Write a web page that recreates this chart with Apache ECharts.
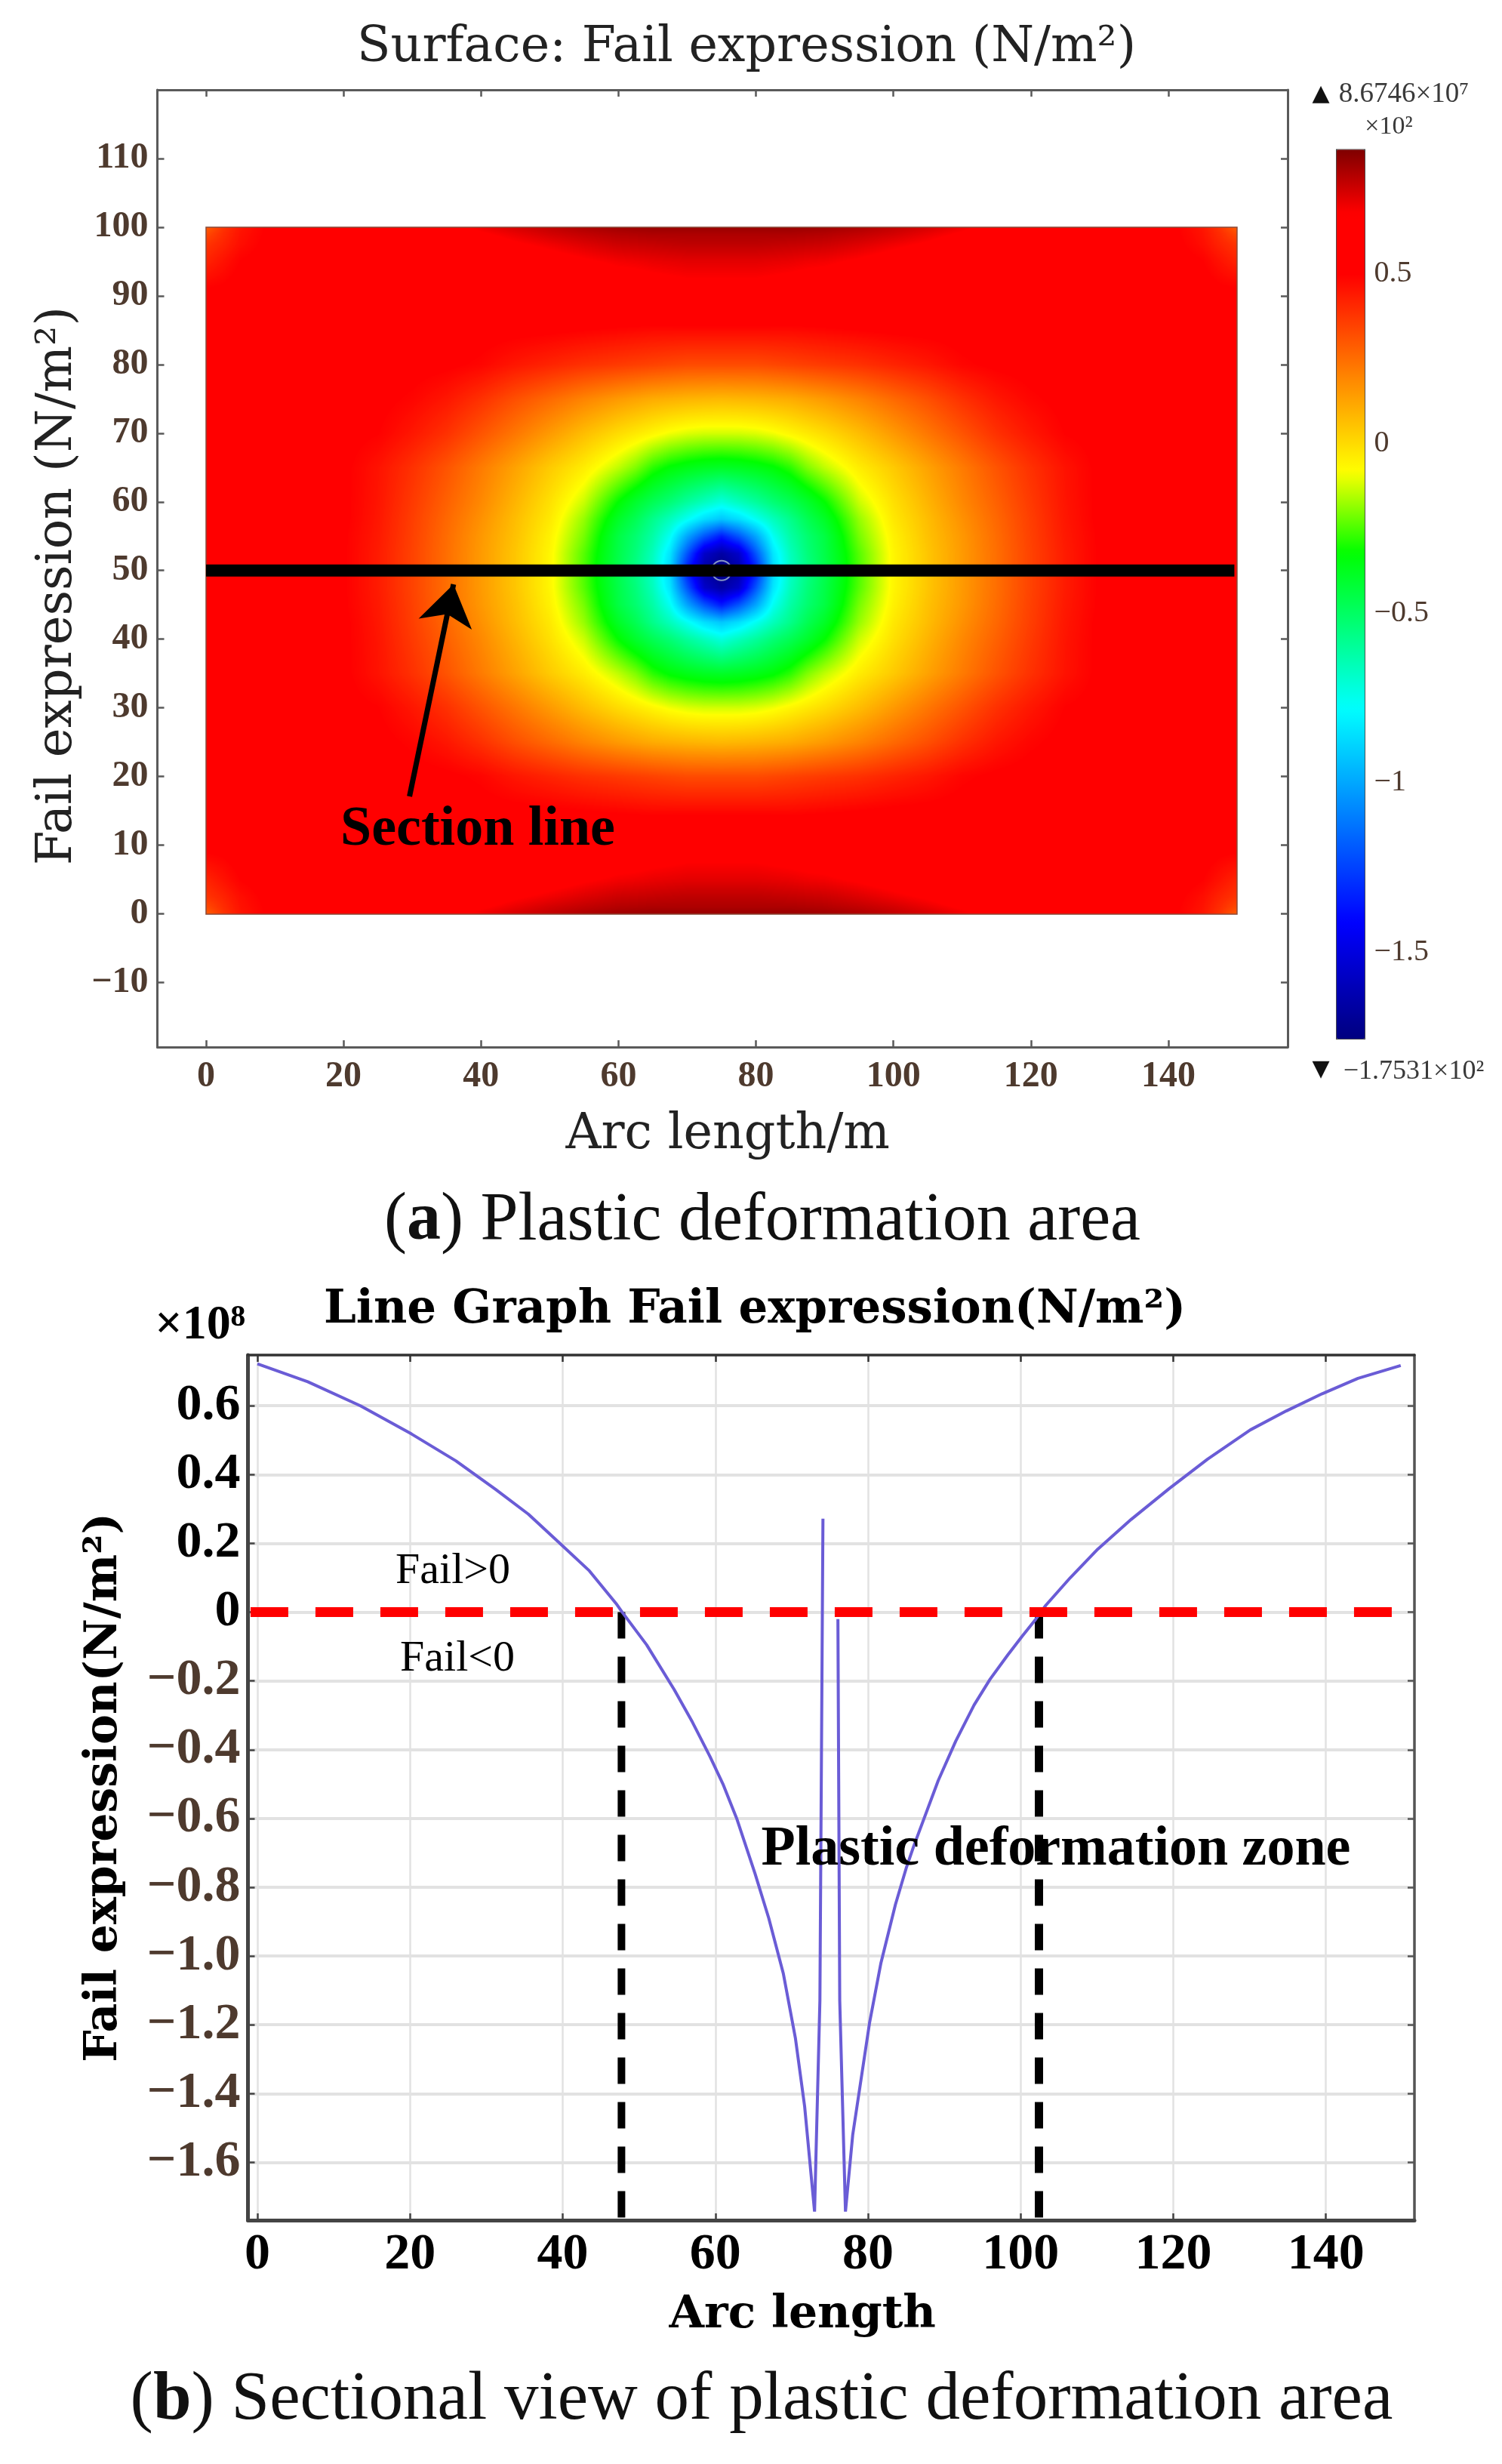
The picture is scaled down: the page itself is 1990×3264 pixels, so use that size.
<!DOCTYPE html>
<html>
<head>
<meta charset="utf-8">
<title>Plastic deformation area</title>
<script src="https://cdn.jsdelivr.net/npm/echarts@6/dist/echarts.min.js"></script>
<style>
html, body { margin: 0; padding: 0; background: #fff; }
#chart { width: 1990px; height: 3264px; }
</style>
</head>
<body>
<div id="chart"></div>
<script>
// surface plot, values read off the colours of the picture (x10^8 N/m2)
// lower left quarter only, the field is mirrored about x=75 and y=50
const surfaceX = [0, 2.5, 5, 10, 15, 20, 25, 30, 35, 40, 45, 50, 55, 60, 62.5, 65, 67.5, 70, 72.5, 75];
const surfaceY = [0, 1, 2.5, 5, 10, 15, 20, 25, 30, 35, 40, 42.5, 45, 47.5, 50];
const surfaceRows = [
    [.28, .38, .45, .52, .54, .55, .57, .60, .65, .70, .74, .77, .80, .82, .825, .83, .83, .83, .83, .83],
    [.33, .40, .46, .52, .54, .55, .56, .58, .62, .67, .71, .745, .77, .79, .795, .80, .80, .80, .80, .80],
    [.38, .42, .47, .525, .54, .545, .55, .56, .59, .63, .67, .70, .73, .755, .76, .765, .77, .775, .775, .775],
    [.42, .46, .50, .53, .54, .54, .545, .55, .56, .58, .61, .64, .67, .695, .70, .71, .715, .72, .72, .72],
    [.52, .52, .53, .535, .54, .54, .54, .54, .54, .54, .545, .56, .58, .60, .61, .62, .63, .64, .64, .64],
    [.53, .53, .535, .54, .54, .54, .535, .53, .525, .52, .515, .51, .50, .49, .485, .48, .48, .48, .48, .48],
    [.54, .54, .54, .535, .53, .53, .525, .52, .51, .49, .45, .42, .39, .37, .36, .35, .34, .33, .33, .33],
    [.54, .54, .54, .53, .525, .52, .515, .49, .45, .39, .32, .26, .20, .15, .13, .11, .10, .09, .085, .08],
    [.54, .54, .54, .53, .52, .515, .50, .45, .39, .31, .23, .15, .07, 0, -.03, -.06, -.09, -.11, -.12, -.12],
    [.54, .54, .54, .53, .52, .51, .46, .39, .31, .22, .13, .04, -.04, -.14, -.20, -.28, -.33, -.36, -.38, -.39],
    [.54, .54, .54, .53, .52, .51, .455, .37, .28, .19, .09, -.01, -.13, -.32, -.40, -.47, -.53, -.60, -.66, -.72],
    [.54, .54, .54, .53, .52, .51, .45, .36, .265, .17, .07, -.03, -.18, -.39, -.47, -.57, -.66, -.76, -.86, -.92],
    [.54, .54, .54, .53, .52, .505, .445, .355, .255, .155, .06, -.05, -.21, -.44, -.52, -.62, -.76, -1.00, -1.20, -1.35],
    [.54, .54, .54, .53, .52, .505, .44, .35, .25, .15, .05, -.06, -.24, -.45, -.54, -.66, -.84, -1.20, -1.55, -1.65],
    [.54, .54, .54, .53, .52, .505, .44, .35, .25, .15, .05, -.06, -.25, -.46, -.56, -.68, -.88, -1.35, -1.65, -1.75]
];

// colour scale of the legend bar
const scaleMin = -1.7531;
const scaleMax = 0.86746;
const scaleValues = [-1.7531, -1.41, -0.78, -0.32, -0.08, 0.5, 0.68, 0.86746];
const scaleColors = ['#00007f', '#0000ff', '#00ffff', '#00ff00', '#ffff00', '#ff0000', '#ff0000', '#7f0000'];
const scaleTicks = [-1.5, -1, -0.5, 0, 0.5];

// section line and arrow in the surface plot
const sectionX = [0, 149.6];
const sectionY = [50, 50];
const holeCenter = [75, 50];
const arrowFrom = [29.6, 17.1];
const arrowTo = [36, 48];

const surfaceTicksX = [0, 20, 40, 60, 80, 100, 120, 140];
const surfaceTicksY = [-10, 0, 10, 20, 30, 40, 50, 60, 70, 80, 90, 100, 110];

// line graph along the section line, null breaks the curve at the spike
const failX = [0, 6.6, 13.5, 20.2, 26, 31.2, 35.5, 39.4, 43.5, 47, 47.8, 51, 54.6, 57, 59.3, 61, 62.8, 65.2, 67, 68.9, 70.5, 71.7, 73, 73.7, 74.1, 75,
    76.06, 76.3, 77.05, 78, 80.2, 81.7, 83.6, 85, 86, 89.2, 91.5, 93.9, 96, 98.3, 100.2, 102, 103.3, 106.5, 110.1, 114.5, 119.5, 124.5, 130.1, 134.8, 139.5, 144.2, 149.8];
const failY = [.722, .67, .60, .518, .44, .357, .285, .205, .12, .025, 0, -.095, -.225, -.32, -.42, -.50, -.60, -.76, -.89, -1.05, -1.24, -1.437, -1.743, -1.13, .272, null,
    -.02, -1.13, -1.743, -1.52, -1.195, -1.02, -.85, -.745, -.68, -.49, -.375, -.27, -.195, -.125, -.07, -.02, .02, .10, .183, .27, .36, .445, .53, .585, .635, .68, .717];
const zeroLineX = [-0.9, 148.9];
const zeroLineY = [0, 0];
const leftDashX = [47.7, 47.7];
const rightDashX = [102.4, 102.4];
const dashY = [0, -1.768];

const failTicksX = [0, 20, 40, 60, 80, 100, 120, 140];
const failTicksY = [-1.6, -1.4, -1.2, -1, -0.8, -0.6, -0.4, -0.2, 0, 0.2, 0.4, 0.6];

const SERIF = '"Liberation Serif", serif';
const SLAB = '"DejaVu Serif", serif';
const BROWN = '#4e3a2e';

function hexToRgb(hex) {
    return [parseInt(hex.slice(1, 3), 16), parseInt(hex.slice(3, 5), 16), parseInt(hex.slice(5, 7), 16)];
}

// colour of a value on the legend bar
function scaleRgb(v) {
    let i = 0;
    while (i < scaleValues.length - 2 && v > scaleValues[i + 1]) i++;
    let t = (v - scaleValues[i]) / (scaleValues[i + 1] - scaleValues[i]);
    t = Math.max(0, Math.min(1, t));
    const a = hexToRgb(scaleColors[i]);
    const b = hexToRgb(scaleColors[i + 1]);
    return [0, 1, 2].map(k => Math.round(a[k] + (b[k] - a[k]) * t));
}

function mirrored(list, about) {
    const back = list.slice(0, -1).reverse().map(v => about * 2 - v);
    return list.concat(back);
}

const fullX = mirrored(surfaceX, 75);
const fullY = mirrored(surfaceY, 50);
const fullRows = surfaceRows.concat(surfaceRows.slice(0, -1).reverse())
    .map(row => row.concat(row.slice(0, -1).reverse()));

const surfaceCells = [];
fullRows.forEach((row, j) => {
    row.forEach((v, i) => {
        surfaceCells.push([fullX[i], fullY[j], v]);
    });
});

// legend bar stops, evenly spaced as visualMap wants them
const barColors = [];
for (let i = 0; i <= 128; i++) {
    const c = scaleRgb(scaleMin + (scaleMax - scaleMin) * i / 128);
    barColors.push('rgb(' + c.join(',') + ')');
}

// which two nodes each pixel sits between
function pixelSpans(nodes, from, to, count) {
    const spans = [];
    let k = 0;
    for (let p = 0; p < count; p++) {
        const d = from + (to - from) * (p + 0.5) / count;
        while (k < nodes.length - 2 && d > nodes[k + 1]) k++;
        spans.push([k, (d - nodes[k]) / (nodes[k + 1] - nodes[k])]);
    }
    return spans;
}

// shades the read values into a canvas, the way the solver smooths its surface
function paintSurface(w, h) {
    const canvas = document.createElement('canvas');
    canvas.width = w;
    canvas.height = h;
    const ctx = canvas.getContext('2d');
    const img = ctx.createImageData(w, h);
    const spanX = pixelSpans(fullX, 0, 150, w);
    const spanY = pixelSpans(fullY, 0, 100, h).reverse(); // canvas rows run top down
    const lut = [];
    for (let i = 0; i <= 1024; i++) lut.push(scaleRgb(scaleMin + (scaleMax - scaleMin) * i / 1024));
    let o = 0;
    for (let y = 0; y < h; y++) {
        const j = spanY[y][0], ty = spanY[y][1];
        const r0 = fullRows[j], r1 = fullRows[j + 1];
        for (let x = 0; x < w; x++) {
            const i = spanX[x][0], tx = spanX[x][1];
            const a = r0[i] + (r0[i + 1] - r0[i]) * tx;
            const b = r1[i] + (r1[i + 1] - r1[i]) * tx;
            const v = a + (b - a) * ty;
            const c = lut[Math.round((v - scaleMin) / (scaleMax - scaleMin) * 1024)] || lut[0];
            img.data[o++] = c[0];
            img.data[o++] = c[1];
            img.data[o++] = c[2];
            img.data[o++] = 255;
        }
    }
    ctx.putImageData(img, 0, 0);
    return canvas;
}

function renderSurface(params, api) {
    if (params.dataIndex !== 0) return;
    const tl = api.coord([0, 100]);
    const br = api.coord([150, 0]);
    const w = Math.round(br[0] - tl[0]);
    const h = Math.round(br[1] - tl[1]);
    return {
        type: 'group',
        children: [
            { type: 'image', style: { image: paintSurface(w, h), x: tl[0], y: tl[1], width: w, height: h } },
            { type: 'rect', shape: { x: tl[0], y: tl[1], width: w, height: h }, style: { fill: 'none', stroke: '#8a4a3a', lineWidth: 1.5 } }
        ]
    };
}

function minusLabel(v) {
    return String(v).replace('-', '\u2212');
}

function failLabel(v) {
    return v === 0 ? '0' : v.toFixed(1).replace('-', '\u2212');
}

function frameAxis(gridIndex, position, min, max, ticks, color, width) {
    return {
        type: 'value',
        gridIndex: gridIndex,
        position: position,
        min: min,
        max: max,
        axisLine: { show: true, onZero: false, lineStyle: { color: color, width: width } },
        axisTick: { show: true, inside: true, length: 9, customValues: ticks, lineStyle: { color: color, width: 2.5 } },
        axisLabel: { show: false },
        splitLine: { show: false }
    };
}

function labelledAxis(base, labelOpt, ticks, nameOpt) {
    base.axisLabel = Object.assign({ show: true, customValues: ticks, fontFamily: SERIF, fontWeight: 'bold' }, labelOpt);
    return Object.assign(base, nameOpt);
}

function gridLines(axis, width) {
    axis.splitLine = { show: true, lineStyle: { color: '#e2e2e2', width: width } };
    return axis;
}

function label(text, x, y, font, size, opt) {
    return {
        type: 'text',
        x: x,
        y: y,
        z: 100,
        style: Object.assign({
            text: text,
            fontFamily: font,
            fontSize: size,
            fill: '#000',
            align: 'center',
            verticalAlign: 'middle'
        }, opt || {})
    };
}

function caption(text, x, y, size) {
    return label(text, x, y, SERIF, size, {
        fill: '#111',
        rich: { b: { fontFamily: SERIF, fontSize: size, fontWeight: 'bold', fill: '#111' } }
    });
}

const xAxes = [
    labelledAxis(frameAxis(0, 'bottom', -7.08, 157.35, surfaceTicksX, '#5a5a5a', 3),
        { color: BROWN, fontSize: 48, margin: 16 }, surfaceTicksX,
        { name: 'Arc length/m', nameLocation: 'middle', nameGap: 85,
          nameTextStyle: { fontFamily: SLAB, fontSize: 65, color: '#222', verticalAlign: 'top', padding: [0, 0, 0, 14] } }),
    frameAxis(0, 'top', -7.08, 157.35, surfaceTicksX, '#5a5a5a', 3),
    gridLines(labelledAxis(frameAxis(1, 'bottom', -1.24, 151.6, failTicksX, '#444', 5),
        { color: '#000', fontSize: 68, margin: 12 }, failTicksX,
        { name: 'Arc length', nameLocation: 'middle', nameGap: 96,
          nameTextStyle: { fontFamily: SLAB, fontWeight: 'bold', fontSize: 60, color: '#000', verticalAlign: 'top', padding: [0, 76, 0, 0] } }), 2.5),
    frameAxis(1, 'top', -1.24, 151.6, failTicksX, '#333', 3.5),
    { type: 'value', gridIndex: 2, min: 0, max: 1, show: false }
];

const yAxes = [
    labelledAxis(frameAxis(0, 'left', -19.4, 120, surfaceTicksY, '#5a5a5a', 3),
        { color: BROWN, fontSize: 48, margin: 12, formatter: minusLabel }, surfaceTicksY,
        { name: 'Fail expression (N/m\u00b2)', nameLocation: 'middle', nameGap: 94, nameRotate: 90,
          nameTextStyle: { fontFamily: SLAB, fontSize: 65.5, color: '#222', verticalAlign: 'bottom', padding: [0, 46, 0, 0] } }),
    frameAxis(0, 'right', -19.4, 120, surfaceTicksY, '#5a5a5a', 3),
    gridLines(labelledAxis(frameAxis(1, 'left', -1.768, 0.7476, failTicksY, '#444', 5),
        { color: v => (Number(v) < 0 ? BROWN : '#000'), fontSize: 68, margin: 10, formatter: failLabel }, failTicksY,
        { name: 'Fail expression(N/m\u00b2)', nameLocation: 'middle', nameGap: 160, nameRotate: 90,
          nameTextStyle: { fontFamily: SLAB, fontWeight: 'bold', fontSize: 60, color: '#000', verticalAlign: 'bottom' } }), 4),
    frameAxis(1, 'right', -1.768, 0.7476, failTicksY, '#555', 3.5),
    {
        type: 'value',
        gridIndex: 2,
        position: 'right',
        min: scaleMin,
        max: scaleMax,
        axisLine: { show: false },
        axisTick: { show: false },
        splitLine: { show: false },
        axisLabel: { customValues: scaleTicks, color: BROWN, fontFamily: SERIF, fontSize: 40, margin: 13, formatter: minusLabel }
    }
];

const chart = echarts.init(document.getElementById('chart'), null, { renderer: 'canvas' });

chart.setOption({
    backgroundColor: '#fff',
    animation: false,
    title: [
        { text: 'Surface: Fail expression (N/m\u00b2)', left: 989, top: 32, textAlign: 'center', padding: 0,
          textStyle: { fontFamily: SLAB, fontSize: 65, fontWeight: 'normal', color: '#222' } },
        { text: 'Line Graph Fail expression(N/m\u00b2)', left: 1000, top: 1706, textAlign: 'center', padding: 0,
          textStyle: { fontFamily: SLAB, fontSize: 61, fontWeight: 'bold', color: '#000' } }
    ],
    grid: [
        { left: 208.5, top: 119, width: 1497.5, height: 1268 },
        { left: 328.5, top: 1795, width: 1545.5, height: 1146 },
        { left: 1770, top: 197.5, width: 37.5, height: 1178 }
    ],
    xAxis: xAxes,
    yAxis: yAxes,
    visualMap: {
        type: 'continuous',
        seriesIndex: 0,
        dimension: 2,
        min: scaleMin,
        max: scaleMax,
        left: 1770,
        top: 197.5,
        padding: 0,
        itemWidth: 37.5,
        itemHeight: 1178,
        showLabel: false,
        calculable: false,
        borderColor: '#444',
        borderWidth: 1.5,
        inRange: { color: barColors }
    },
    graphic: [
        label('Section line', 633, 1100, SERIF, 74, { fontWeight: 'bold' }),
        caption('({b|a}) Plastic deformation area', 1010, 1618, 90),
        caption('({b|b}) Sectional view of plastic deformation area', 1009, 3180, 91),
        label('\u25b2', 1750, 125, '"DejaVu Sans"', 30, { fill: '#111' }),
        label('8.6746\u00d710\u2077', 1860, 125, SERIF, 37, { fill: '#3a3a3a' }),
        label('\u00d710\u00b2', 1840, 168, SERIF, 34, { fill: '#3a3a3a' }),
        label('\u25bc', 1750, 1417, '"DejaVu Sans"', 30, { fill: '#111' }),
        label('\u22121.7531\u00d710\u00b2', 1873, 1420, SERIF, 36, { fill: '#3a3a3a' }),
        label('\u00d710\u2078', 265, 1756, SERIF, 64, { fontWeight: 'bold' }),
        label('Fail>0', 600, 2082, SERIF, 58),
        label('Fail<0', 606, 2198, SERIF, 58),
        label('Plastic deformation zone', 1399, 2451, SERIF, 74, { fontWeight: 'bold' })
    ],
    series: [
        {
            type: 'custom',
            xAxisIndex: 0,
            yAxisIndex: 0,
            coordinateSystem: 'cartesian2d',
            renderItem: renderSurface,
            encode: { x: 0, y: 1 },
            silent: true,
            z: 1,
            data: surfaceCells
        },
        {
            type: 'scatter',
            xAxisIndex: 0,
            yAxisIndex: 0,
            symbol: 'circle',
            symbolSize: 26,
            silent: true,
            z: 2,
            itemStyle: { color: 'rgba(0,0,0,0)', borderColor: '#a8bcd0', borderWidth: 2 },
            data: [holeCenter]
        },
        {
            type: 'line',
            xAxisIndex: 0,
            yAxisIndex: 0,
            showSymbol: false,
            silent: true,
            z: 3,
            lineStyle: { color: '#000', width: 16, cap: 'butt' },
            data: sectionX.map((x, i) => [x, sectionY[i]]),
            markLine: {
                silent: true,
                animation: false,
                label: { show: false },
                lineStyle: { color: '#000', width: 7, type: 'solid' },
                data: [[
                    { coord: arrowFrom, symbol: 'none' },
                    { coord: arrowTo, symbol: 'arrow', symbolSize: 54, itemStyle: { color: '#000' } }
                ]]
            }
        },
        {
            type: 'line',
            xAxisIndex: 2,
            yAxisIndex: 2,
            showSymbol: false,
            silent: true,
            connectNulls: false,
            z: 3,
            lineStyle: { color: '#6a5cd6', width: 4 },
            data: failX.map((x, i) => [x, failY[i]])
        },
        {
            type: 'line',
            xAxisIndex: 2,
            yAxisIndex: 2,
            showSymbol: false,
            silent: true,
            z: 2,
            lineStyle: { color: '#000', width: 10, type: [35, 24], cap: 'butt' },
            data: leftDashX.map((x, i) => [x, dashY[i]])
        },
        {
            type: 'line',
            xAxisIndex: 2,
            yAxisIndex: 2,
            showSymbol: false,
            silent: true,
            z: 2,
            lineStyle: { color: '#000', width: 11, type: [35, 24], cap: 'butt' },
            data: rightDashX.map((x, i) => [x, dashY[i]])
        },
        {
            type: 'line',
            xAxisIndex: 2,
            yAxisIndex: 2,
            showSymbol: false,
            silent: true,
            z: 4,
            lineStyle: { color: '#ff0000', width: 13, type: [50, 36], cap: 'butt' },
            data: zeroLineX.map((x, i) => [x, zeroLineY[i]])
        }
    ]
});
</script>
</body>
</html>
